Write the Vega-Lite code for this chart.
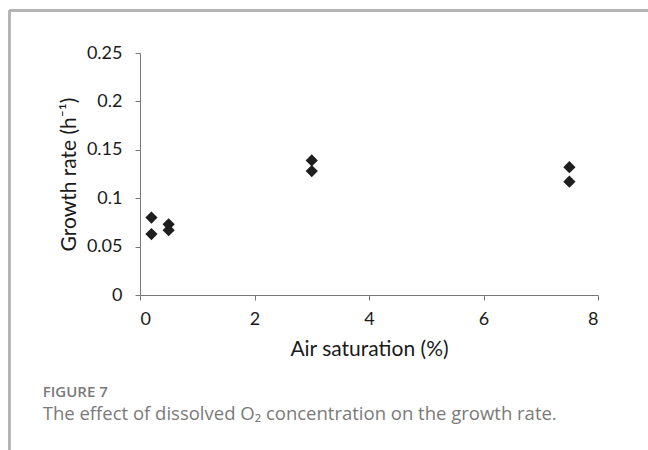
{
  "$schema": "https://vega.github.io/schema/vega-lite/v6.json",
  "width": 458,
  "height": 242,
  "autosize": "none",
  "padding": {"left": 140, "top": 53, "right": 50, "bottom": 155},
  "background": "white",
  "config": {
    "view": {"stroke": null},
    "font": "Lato"
  },
  "title": {
    "text": "FIGURE 7",
    "subtitle": "The effect of dissolved O₂ concentration on the growth rate.",
    "orient": "bottom",
    "anchor": "start",
    "frame": "bounds",
    "dx": 34,
    "offset": -75,
    "font": "Open Sans",
    "fontSize": 15,
    "fontWeight": 600,
    "color": "#7a7a7a",
    "subtitleFont": "Open Sans",
    "subtitleFontSize": 18.5,
    "subtitleFontWeight": 400,
    "subtitleColor": "#7a7a7a",
    "subtitlePadding": 5
  },
  "data": {
    "values": [
      {"air": 0.2, "rate": 0.080},
      {"air": 0.2, "rate": 0.063},
      {"air": 0.5, "rate": 0.073},
      {"air": 0.5, "rate": 0.067},
      {"air": 3, "rate": 0.139},
      {"air": 3, "rate": 0.128},
      {"air": 7.5, "rate": 0.132},
      {"air": 7.5, "rate": 0.117}
    ]
  },
  "layer": [
    {
      "mark": {"type": "rule", "clip": false, "color": "#b0b0b0", "strokeWidth": 1.5},
      "encoding": {
        "x": {"datum": -2.28, "type": "quantitative", "scale": {"domain": [0, 8]}},
        "x2": {"datum": 9.5},
        "y": {"datum": 0.294, "type": "quantitative", "scale": {"domain": [0, 0.25]}}
      }
    },
    {
      "mark": {"type": "rule", "clip": false, "color": "#b0b0b0", "strokeWidth": 1.5},
      "encoding": {
        "x": {"datum": -2.28, "type": "quantitative", "scale": {"domain": [0, 8]}},
        "y": {"datum": 0.294, "type": "quantitative", "scale": {"domain": [0, 0.25]}},
        "y2": {"datum": -0.17}
      }
    },
    {
      "mark": {"type": "point", "shape": "diamond", "filled": true, "size": 150, "color": "#1e1e1e", "opacity": 1},
      "encoding": {
        "x": {
          "field": "air",
          "type": "quantitative",
          "scale": {"domain": [0, 8], "nice": false, "zero": false},
          "axis": {
            "title": "Air saturation (%)",
            "values": [0, 2, 4, 6, 8],
            "format": "d",
            "grid": false,
            "domainColor": "#777",
            "tickColor": "#777",
            "tickSize": 5,
            "labelFontSize": 18,
            "labelColor": "#1a1a1a",
            "labelPadding": 10,
            "titleFontSize": 21,
            "titleFontWeight": "normal",
            "titleColor": "#1a1a1a",
            "titlePadding": 10
          }
        },
        "y": {
          "field": "rate",
          "type": "quantitative",
          "scale": {"domain": [0, 0.25], "nice": false},
          "axis": {
            "title": "Growth rate (h⁻¹)",
            "values": [0, 0.05, 0.1, 0.15, 0.2, 0.25],
            "format": "~r",
            "grid": false,
            "domainColor": "#777",
            "tickColor": "#777",
            "tickSize": 5,
            "labelFontSize": 18,
            "labelColor": "#1a1a1a",
            "labelPadding": 13,
            "titleFontSize": 21,
            "titleFontWeight": "normal",
            "titleColor": "#1a1a1a",
            "titlePadding": 7
          }
        }
      }
    }
  ]
}
